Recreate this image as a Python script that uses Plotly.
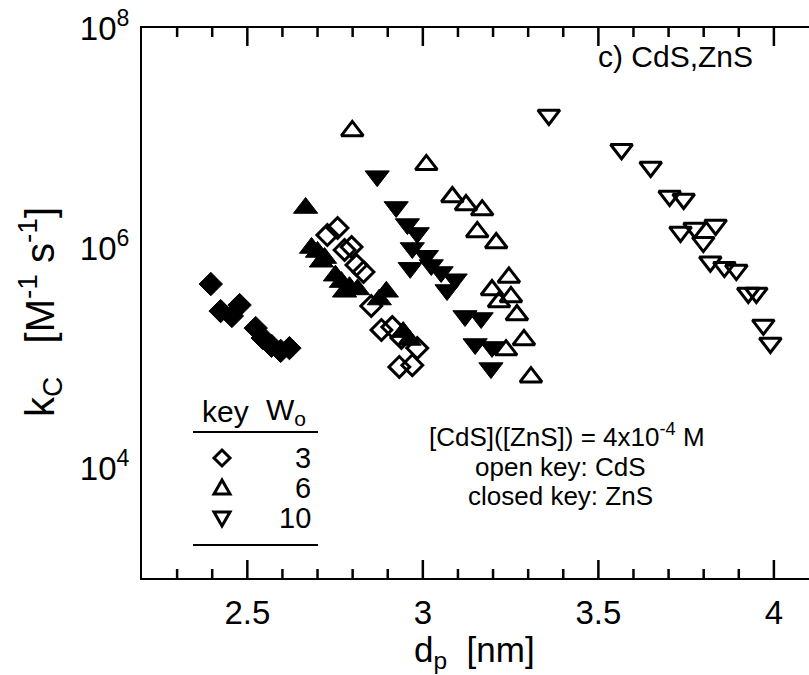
import math
import plotly.graph_objects as go

# Particle diameter d_p [nm] and coagulation rate constant k_C [M^-1 s^-1]
# W0 = 3
dp_w3_zns = [2.396, 2.424, 2.456, 2.478, 2.524, 2.544, 2.569, 2.595, 2.620]
kc_w3_zns = [4.7e5, 2.67e5, 2.41e5, 3.03e5, 1.87e5, 1.52e5, 1.29e5, 1.16e5, 1.23e5]
dp_w3_cds = [2.728, 2.757, 2.777, 2.797, 2.811, 2.831, 2.853, 2.882, 2.913, 2.939, 2.984, 2.933, 2.970]
kc_w3_cds = [1.31e6, 1.52e6, 9.6e5, 1.02e6, 7.0e5, 6.05e5, 2.97e5, 1.80e5, 1.91e5, 1.52e5, 1.23e5, 8.3e4, 8.6e4]

# W0 = 6
dp_w6_zns = [2.666, 2.683, 2.700, 2.720, 2.711, 2.751, 2.768, 2.791, 2.777, 2.814, 2.896, 2.876, 2.944, 2.961]
kc_w6_zns = [2.31e6, 1.0e6, 9.2e5, 8.1e5, 7.5e5, 5.6e5, 4.9e5, 4.4e5, 4.0e5, 4.2e5, 4.0e5, 3.4e5, 1.72e5, 1.46e5]
dp_w6_cds = [2.799, 3.010, 3.084, 3.123, 3.169, 3.155, 3.209, 3.245, 3.197, 3.217, 3.251, 3.268, 3.288, 3.237, 3.308]
kc_w6_cds = [1.16e7, 5.7e6, 2.91e6, 2.46e6, 2.21e6, 1.40e6, 1.11e6, 5.4e5, 4.15e5, 3.23e5, 3.59e5, 2.46e5, 1.46e5, 1.18e5, 6.7e4]

# W0 = 10
dp_w10_zns = [2.870, 2.924, 2.956, 2.984, 2.970, 3.010, 2.964, 3.024, 3.052, 3.092, 3.069, 3.120, 3.166, 3.149, 3.197, 3.194]
kc_w10_zns = [4.5e6, 2.36e6, 1.65e6, 1.37e6, 1.0e6, 8.5e5, 6.6e5, 7.0e5, 6.05e5, 5.2e5, 4.15e5, 2.41e5, 2.31e5, 1.34e5, 1.26e5, 8.1e4]
dp_w10_cds = [3.359, 3.566, 3.649, 3.703, 3.743, 3.734, 3.774, 3.834, 3.799, 3.819, 3.859, 3.893, 3.927, 3.950, 3.970, 3.990]
kc_w10_cds = [1.62e7, 7.9e6, 5.45e6, 2.97e6, 2.79e6, 1.40e6, 1.52e6, 1.62e6, 1.13e6, 7.5e5, 6.7e5, 6.3e5, 3.9e5, 3.9e5, 2.0e5, 1.37e5]

x_ticks = [2.5, 3.0, 3.5, 4.0]
x_tick_text = ["2.5", "3", "3.5", "4"]
y_ticks = [1e3, 1e4, 1e5, 1e6, 1e7, 1e8]
y_tick_text = ["", "10<sup>4</sup>", "", "10<sup>6</sup>", "", "10<sup>8</sup>"]

key_w0 = ["3", "6", "10"]
key_shapes = ["diamond", "up", "down"]

W, H = 809, 675
FONT = "Liberation Sans, Arial, sans-serif"
X_RANGE = [2.2, 4.1]
Y_RANGE = [3, 8]
# plot frame in pixels
PL, PR, PT, PB = 142, 809, 28, 578
MAJOR_LEN, MINOR_LEN, RIGHT_LEN = 18, 9, 15


def px(x):
    return x / W


def py(y):
    return 1 - y / H


fig = go.Figure()


def add_series(x, y, symbol, size, lw):
    fig.add_trace(go.Scatter(
        x=x, y=y, mode="markers",
        marker=dict(symbol=symbol, size=size, color="black",
                    line=dict(color="black", width=lw)),
        showlegend=False, hoverinfo="x+y"))


add_series(dp_w3_zns, kc_w3_zns, "diamond", 18, 1)
add_series(dp_w6_zns, kc_w6_zns, "triangle-up", 21, 1)
add_series(dp_w10_zns, kc_w10_zns, "triangle-down", 21, 1)
add_series(dp_w3_cds, kc_w3_cds, "diamond-open", 16, 3)
add_series(dp_w6_cds, kc_w6_cds, "triangle-up-open", 19, 3)
add_series(dp_w10_cds, kc_w10_cds, "triangle-down-open", 19, 3)

xdom = [px(PL), px(PR)]
ydom = [py(PB), py(PT)]
tickfont = dict(family=FONT, size=33, color="black")

base = dict(color="black", linecolor="black", linewidth=2, automargin=False,
            showgrid=False, zeroline=False, ticks="")

fig.update_layout(
    width=W, height=H,
    margin=dict(l=0, r=0, t=0, b=0, autoexpand=False),
    paper_bgcolor="white", plot_bgcolor="white",
    font=dict(family=FONT, color="black"),
    xaxis=dict(domain=xdom, range=X_RANGE, anchor="y", showline=True, mirror=True,
               tickvals=x_ticks, ticktext=x_tick_text, tickfont=tickfont,
               ticklabelstandoff=4, **base),
    yaxis=dict(domain=ydom, range=Y_RANGE, type="log", anchor="x", showline=True,
               tickvals=y_ticks, ticktext=y_tick_text, tickfont=tickfont,
               ticklabelstandoff=4, **base),
)

# inward tick marks on all four sides, placed in axis units
tick_line = dict(color="black", width=2.5)
minor_x = [round(2.2 + 0.1 * i, 1) for i in range(1, 19)]
for v in minor_x:
    ln = MAJOR_LEN if any(abs(v - t) < 1e-9 for t in x_ticks) else MINOR_LEN
    for edge, direction in ((PB, -1), (PT, 1)):
        fig.add_shape(type="line", xref="x", yref="paper", x0=v, x1=v,
                      y0=py(edge), y1=py(edge + direction * ln), line=tick_line)
for v in y_ticks:
    lv = math.log10(v)
    fig.add_shape(type="line", xref="paper", yref="y", x0=px(PL), x1=px(PL + MAJOR_LEN),
                  y0=lv, y1=lv, line=tick_line)
    fig.add_shape(type="line", xref="paper", yref="y", x0=px(PR), x1=px(PR - RIGHT_LEN),
                  y0=lv, y1=lv, line=tick_line)


def pix_text(x, y, text, size=24, xanchor="center", angle=0):
    fig.add_annotation(x=px(x), y=py(y), xref="paper", yref="paper", text=text,
                       showarrow=False, xanchor=xanchor, yanchor="middle",
                       textangle=angle,
                       font=dict(family=FONT, size=size, color="black"))


# axis titles
pix_text(475, 652, "d<sub>p</sub>&nbsp;&nbsp;[nm]", size=35)
pix_text(40, 312, "k<sub>C</sub>&nbsp;&nbsp;&nbsp;[M<sup>-1</sup>&nbsp;s<sup>-1</sup>]", size=40, angle=-90)

# panel label and conditions
pix_text(675, 57, "c) CdS,ZnS", size=30)
pix_text(567, 435, "[CdS]([ZnS]) = 4x10<sup>-4</sup> M", size=26)
pix_text(560, 467, "open key: CdS", size=26)
pix_text(560, 496, "closed key: ZnS", size=26)

# key table: header, rules, symbols and W0 values
pix_text(225, 411, "key", size=30)
pix_text(286, 411, "W<sub>o</sub>", size=30)
key_x = 222
key_num_x = 313
key_rows_y = [458, 488, 518]
for w0, yy in zip(key_w0, key_rows_y):
    pix_text(key_num_x, yy, w0, size=29, xanchor="right")

for yy in (432, 545):
    fig.add_shape(type="line", xref="paper", yref="paper",
                  x0=px(193), x1=px(318), y0=py(yy), y1=py(yy),
                  line=dict(color="black", width=2))


def key_path(kind, cx, cy, r=8):
    if kind == "diamond":
        pts = [(cx - r, cy), (cx, cy - r), (cx + r, cy), (cx, cy + r)]
    elif kind == "up":
        pts = [(cx - r, cy + 6), (cx + r, cy + 6), (cx, cy - 8)]
    else:
        pts = [(cx - r, cy - 6), (cx + r, cy - 6), (cx, cy + 8)]
    return "M " + " L ".join(f"{px(a):.5f},{py(b):.5f}" for a, b in pts) + " Z"


for kind, yy in zip(key_shapes, key_rows_y):
    fig.add_shape(type="path", xref="paper", yref="paper", path=key_path(kind, key_x, yy),
                  line=dict(color="black", width=3), fillcolor="rgba(0,0,0,0)")

fig.write_html("out.html")
